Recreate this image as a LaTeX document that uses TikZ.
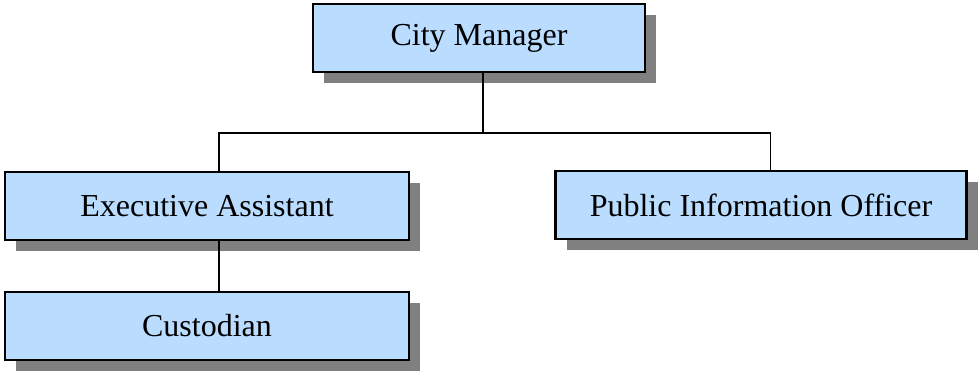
\documentclass[tikz,border=0pt]{standalone}
\usepackage{fontspec}
\setmainfont{Liberation Serif}
\usetikzlibrary{positioning, shadows}
\definecolor{postblue}{RGB}{185,220,255}

\begin{document}
\begin{tikzpicture}[
        on grid, line width=0.8pt,
        post/.style={draw=black, line width=1.2pt, fill=postblue,
          minimum height=34pt, inner sep=0pt, font=\fontsize{16}{19}\selectfont,
          drop shadow={shadow xshift=5.5pt, shadow yshift=-5.5pt, fill=black!50, opacity=1}},
        ]
        \useasboundingbox (0,0) rectangle (489.5pt,-185pt);
        \node[post, minimum width=166pt]    (cm)   at (239.5pt,-19pt)            {City Manager};
        \node[post, minimum width=202pt]    (ea)   [below left=84pt and 136pt of cm]   {Executive Assistant};
        \node[post, minimum width=205.5pt]  (pio)  [below right=83.5pt and 141pt of cm] {Public Information Officer};
        \node[post, minimum width=202pt]    (cust) [below=60pt of ea]           {Custodian};

        \draw ([xshift=2pt]cm.south) -- ++(0,-30pt) coordinate (hub);
        \draw (hub) -| ([xshift=6pt]ea.north);
        \draw (hub) -| ([xshift=4.75pt]pio.north);
        \draw ([xshift=6pt]ea.south) -- ([xshift=6pt]cust.north);
      \end{tikzpicture}
\end{document}
